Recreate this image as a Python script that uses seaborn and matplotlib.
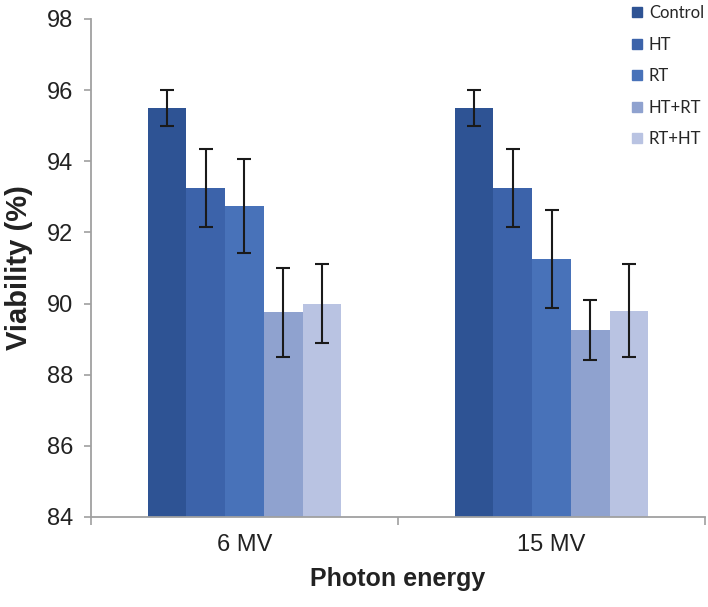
import pandas as pd
import matplotlib.pyplot as plt
import seaborn as sns
from matplotlib.lines import Line2D

# values
energies = ["6 MV", "15 MV"]
groups = ["Control", "HT", "RT", "HT+RT", "RT+HT"]
viability_6mv = [95.5, 93.25, 92.75, 89.75, 90.0]
viability_15mv = [95.5, 93.25, 91.25, 89.25, 89.8]
err_6mv = [0.5, 1.1, 1.32, 1.25, 1.1]
err_15mv = [0.5, 1.1, 1.37, 0.85, 1.3]
colors = ["#2E5394", "#3C63AA", "#4872B9", "#8FA2CF", "#B9C3E2"]
yticks = [84, 86, 88, 90, 92, 94, 96, 98]


def build_frame():
    """Long table for seaborn."""
    rows = []
    for energy, vals, errs in [(energies[0], viability_6mv, err_6mv),
                               (energies[1], viability_15mv, err_15mv)]:
        for g, v, e in zip(groups, vals, errs):
            rows.append({"energy": energy, "group": g, "viability": v, "err": e})
    return pd.DataFrame(rows)


df = build_frame()

sns.set_theme(style="white")
plt.rcParams['font.family'] = ['Liberation Sans', 'DejaVu Sans']

fig = plt.figure(figsize=(7.08, 6.07), dpi=100)
ax = fig.add_axes([0.1285, 0.1483, 0.8673, 0.8204])

sns.barplot(data=df, x="energy", y="viability", hue="group", order=energies,
            hue_order=groups, palette=colors, saturation=1, width=0.63,
            errorbar=None, legend=False, linewidth=0, ax=ax)

# error bars at the bar centres seaborn drew
for container, g in zip(ax.containers, groups):
    sub = df[df["group"] == g].set_index("energy").loc[energies]
    xs = [p.get_x() + p.get_width() / 2 for p in container.patches]
    ax.errorbar(xs, sub["viability"].values, yerr=sub["err"].values, fmt="none",
                ecolor="#1a1a1a", elinewidth=1.5, capsize=5, capthick=1.5, zorder=5)

ax.set_ylim(84, 98)
ax.set_xlim(-0.5, 1.5)
ax.set_yticks(yticks)
ax.set_yticklabels([str(t) for t in yticks], fontsize=17, color="#222222")
ax.set_xticks([0, 1])
ax.set_xticklabels(energies, fontsize=17, color="#222222")
ax.set_xticks([-0.5, 0.5, 1.5], minor=True)
ax.tick_params(axis="x", which="major", length=0, pad=12)
ax.tick_params(axis="x", which="minor", length=6, width=1.2, color="#a0a0a0",
               direction="out", bottom=True)
ax.tick_params(axis="y", length=5, width=1.2, color="#a0a0a0", direction="out",
               left=True, pad=8)

for side in ["top", "right"]:
    ax.spines[side].set_visible(False)
for side in ["left", "bottom"]:
    ax.spines[side].set_color("#a0a0a0")
    ax.spines[side].set_linewidth(1.3)

ax.set_xlabel("Photon energy", fontsize=18, fontweight="bold", color="#222222",
              labelpad=8)
ax.set_ylabel("Viability (%)", fontsize=21, fontweight="bold", color="#222222",
              labelpad=10)

handles = [Line2D([0], [0], marker="s", linestyle="none", markersize=7.5,
                  markerfacecolor=c, markeredgecolor=c) for c in colors]
fig.legend(handles, groups, loc="upper left", bbox_to_anchor=(0.874, 1.008),
           frameon=False, handletextpad=0.2, labelspacing=0.93,
           handlelength=1.0, borderaxespad=0.2,
           prop={"family": "Lato", "size": 12})

plt.savefig("out.png", dpi=100)
